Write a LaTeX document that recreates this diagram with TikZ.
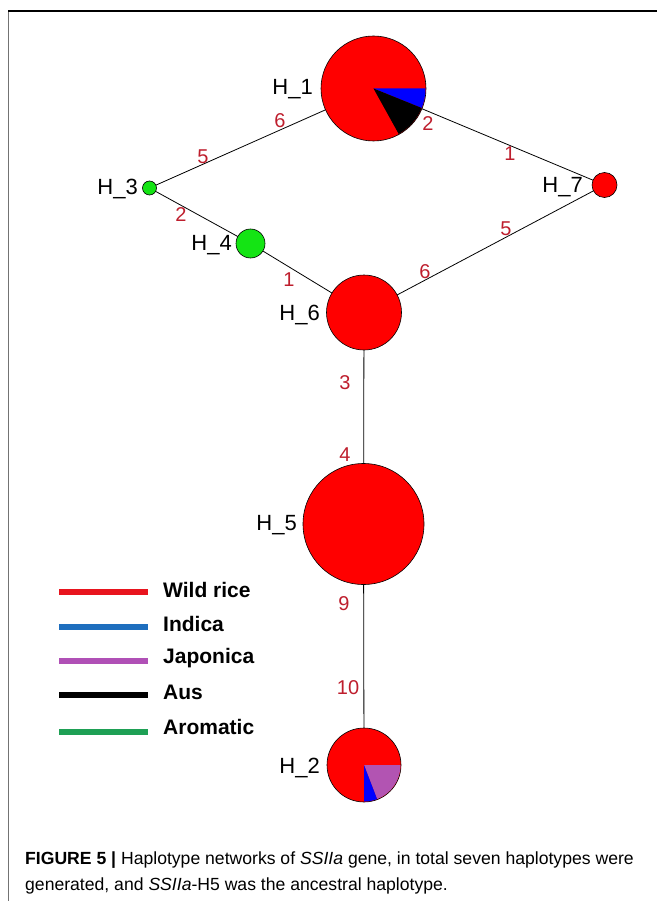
\documentclass[tikz,border=0pt]{standalone}
\usepackage{fontspec}
\setmainfont{Liberation Sans}
\usepackage{xcolor}
\usetikzlibrary{positioning,backgrounds}
\definecolor{wildred}{RGB}{255,0,0}
\definecolor{indblue}{RGB}{0,0,255}
\definecolor{japurple}{RGB}{178,84,178}
\definecolor{aromgreen}{RGB}{20,228,20}
\definecolor{mutred}{RGB}{190,30,45}
\definecolor{keyred}{RGB}{232,20,30}
\definecolor{keyblue}{RGB}{30,110,190}
\definecolor{keypurple}{RGB}{176,80,182}
\definecolor{keygreen}{RGB}{30,160,85}
\tikzset{
  hap/.style={circle, draw=black, line width=0.6pt, fill=wildred, inner sep=0pt},
  hlbl/.style={font=\fontsize{22}{22}\selectfont, anchor=east, inner sep=1pt},
  mut/.style={font=\fontsize{20}{20}\selectfont, text=mutred, inner sep=0pt},
  link/.style={draw=black, line width=0.8pt},
  keyline/.style={line width=6pt},
  keylbl/.style={font=\fontsize{21}{21}\selectfont\bfseries, anchor=west, inner sep=0pt},
  capline/.style={font=\fontsize{17.6}{17.6}\selectfont, anchor=base west, inner sep=0pt},
}

\begin{document}
\begin{tikzpicture}[x=1pt,y=1pt]
\useasboundingbox (0,0) rectangle (657,-901);
% ---- frame ----
\draw[black!55, line width=1pt] (8,-11) -- (8,-901);
\draw[black, line width=1.5pt] (8,-11) -- (657,-11);
% ---- haplotypes ----
\node[hap, minimum size=105pt] (h1) at (373.5,-88.5) {};
\node[hap, minimum size=74pt]  (h2) at (364,-765) {};
\node[hap, fill=aromgreen, minimum size=14pt] (h3) at (149.5,-188) {};
\node[hap, fill=aromgreen, minimum size=29pt] (h4) at (250.5,-243.5) {};
\node[hap, minimum size=121pt] (h5) at (363.5,-524) {};
\node[hap, minimum size=75pt]  (h6) at (364,-312.5) {};
\node[hap, minimum size=25pt]  (h7) at (604.5,-185) {};
% pie slices
\fill[indblue] (h1.center) -- ++(0:52) arc[start angle=0, end angle=-22, radius=52] -- cycle;
\fill[black] (h1.center) -- ++(-22:52) arc[start angle=-22, end angle=-61, radius=52] -- cycle;
\fill[japurple] (h2.center) -- ++(0:36.5) arc[start angle=0, end angle=-69, radius=36.5] -- cycle;
\fill[indblue] (h2.center) -- ++(-69:36.5) arc[start angle=-69, end angle=-90, radius=36.5] -- cycle;
% ---- haplotype names ----
\node[hlbl] (l1) at (314,-89) {H\_1};
\node[hlbl] (l2) at (321,-768) {H\_2};
\node[hlbl] (l3) at (139,-189) {H\_3};
\node[hlbl] (l4) at (233,-245) {H\_4};
\node[hlbl] (l5) at (298,-525) {H\_5};
\node[hlbl] (l6) at (321,-315) {H\_6};
\node[hlbl] (l7) at (584,-187) {H\_7};
% ---- links ----
\begin{scope}[on background layer]
\draw[link] (h3.center) -- (h1.center);
\draw[link] (h3.center) -- (h4.center);
\draw[link] (h4.center) -- (h6.center);
\draw[link] (h1.center) -- (h7.center);
\draw[link] (h6.center) -- (h7.center);
\draw[link] (h6.center) -- (h5.center);
\draw[link] (h5.center) -- (h2.center);
\end{scope}
% ---- mutation counts ----
\node[mut] (m31a) at (203,-157) {5};
\node[mut] (m31b) at (280,-121) {6};
\node[mut] (m34)  at (181,-215) {2};
\node[mut] (m46)  at (289,-280) {1};
\node[mut] (m17a) at (428,-124) {2};
\node[mut] (m17b) at (510,-154) {1};
\node[mut] (m67a) at (425,-272) {6};
\node[mut] (m67b) at (506,-229) {5};
\node[mut] (m65a) at (345,-383) {3};
\node[mut] (m65b) at (345,-455) {4};
\node[mut] (m52a) at (344,-604) {9};
\node[mut] (m52b) at (348,-688) {10};
% ---- legend ----
\draw[keyline, keyred]    (59,-592) -- (148,-592) coordinate (k1);
\draw[keyline, keyblue]   (59,-627) -- (148,-627) coordinate (k2);
\draw[keyline, keypurple] (59,-661) -- (148,-661) coordinate (k3);
\draw[keyline, black]     (59,-695) -- (148,-695) coordinate (k4);
\draw[keyline, keygreen]  (59,-732) -- (148,-732) coordinate (k5);
\node[keylbl] (t1) at (163,-590) {Wild rice};
\node[keylbl] (t2) at (163,-624) {Indica};
\node[keylbl] (t3) at (163,-658) {Japonica};
\node[keylbl] (t4) at (163,-692) {Aus};
\node[keylbl] (t5) at (163,-727) {Aromatic};
% ---- caption ----
\node[capline] (cap1) at (25,-864) {\textbf{FIGURE 5 |} Haplotype networks of \textit{SSIIa} gene, in total seven haplotypes were};
\node[capline] (cap2) at (25,-890) {generated, and \textit{SSIIa}-H5 was the ancestral haplotype.};
\end{tikzpicture}
\end{document}
